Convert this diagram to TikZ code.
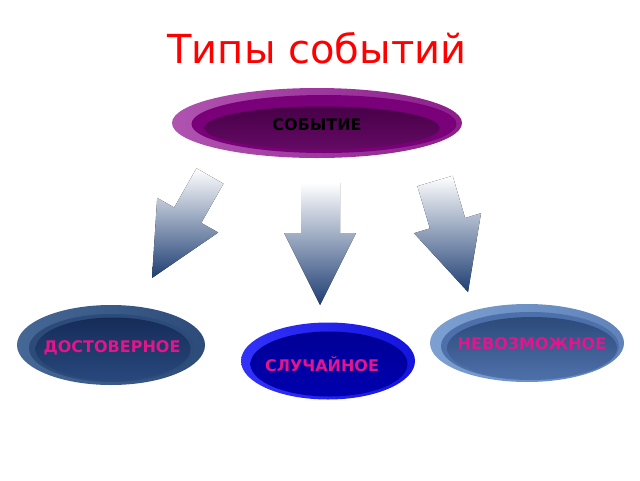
\documentclass[tikz,border=0pt]{standalone}
\usepackage{fontspec}
\setmainfont{DejaVu Sans}
\usetikzlibrary{shapes,positioning}

\definecolor{purpleA}{RGB}{176,84,176}
\definecolor{purpleB}{RGB}{140,30,140}
\definecolor{purpleC}{RGB}{122,0,122}
\definecolor{purpleD}{RGB}{72,0,72}
\definecolor{purpleE}{RGB}{100,10,100}
\definecolor{arrowblue}{RGB}{30,62,115}
\definecolor{steelA}{RGB}{70,104,150}
\definecolor{steelB}{RGB}{45,75,120}
\definecolor{navyA}{RGB}{22,44,88}
\definecolor{navyB}{RGB}{40,72,125}
\definecolor{brightA}{RGB}{50,50,250}
\definecolor{brightB}{RGB}{20,20,220}
\definecolor{deepA}{RGB}{0,0,150}
\definecolor{deepB}{RGB}{0,0,175}
\definecolor{skyA}{RGB}{125,160,210}
\definecolor{skyB}{RGB}{95,130,185}
\definecolor{skyC}{RGB}{44,74,122}
\definecolor{skyD}{RGB}{78,112,170}
\definecolor{pinktext}{RGB}{228,20,140}

\begin{document}
\begin{tikzpicture}[x=1pt, y=-1pt]
            \tikzstyle{disc} = [ellipse, inner sep=0pt]
            \tikzstyle{evtext} = [font=\bfseries\fontsize{16}{19}\selectfont]
            \tikzstyle{blockarrow} = [top color=white, bottom color=arrowblue, draw=none]
            \useasboundingbox (0, 0) rectangle (640, 480);

            \node[anchor=base, text=red, font=\fontsize{40}{48}\selectfont] (title) at (317, 63) {Типы событий};

            % top ellipse
            \node[disc, minimum width=290, minimum height=70, left color=purpleA, right color=purpleB] (sobout) at (317, 123) {};
            \node[disc, minimum width=265, minimum height=58, fill=purpleC] (sobmid) at (324, 124) {};
            \node[disc, minimum width=235, minimum height=43, top color=purpleD, bottom color=purpleE] (sobin) at (322, 128) {};
            \node[evtext, text=black] (sob) at (317, 125) {СОБЫТИЕ};

            % arrows
            \fill[blockarrow] (196.5, 168.3) -- (223.5, 183.7) -- (201.2, 222.9) -- (218.2, 232.5)
                -- (152, 278) -- (157.2, 197.9) -- (174.2, 207.5) -- cycle;
            \fill[blockarrow] (301, 183) -- (340, 183) -- (340, 233) -- (356, 233)
                -- (320, 305) -- (284, 233) -- (301, 233) -- cycle;
            \fill[blockarrow] (417.4, 186.2) -- (452.6, 175.8) -- (465.1, 218.0) -- (481.0, 213.2)
                -- (468, 292) -- (414.0, 233.2) -- (429.9, 228.4) -- cycle;

            % bottom ellipses
            \node[disc, minimum width=188, minimum height=80, left color=steelA, right color=steelB] (dostout) at (111, 345) {};
            \node[disc, minimum width=166, minimum height=68, fill=steelB] (dostmid) at (112, 348) {};
            \node[disc, minimum width=155, minimum height=63, top color=navyA, bottom color=navyB] (dostin) at (113, 349) {};
            \node[evtext, text=pinktext] (dost) at (112, 348) {ДОСТОВЕРНОЕ};

            \node[disc, minimum width=174, minimum height=77, left color=brightA, right color=brightB] (sluchout) at (328, 361) {};
            \node[disc, minimum width=157, minimum height=65, top color=deepA, bottom color=deepB] (sluchin) at (329, 364) {};
            \node[evtext, text=pinktext] (sluch) at (322, 364) {СЛУЧАЙНОЕ};

            \node[disc, minimum width=194, minimum height=78, left color=skyA, right color=skyB] (nevozout) at (527, 343) {};
            \node[disc, minimum width=178, minimum height=68, fill=skyD] (nevozmid) at (530, 346) {};
            \node[disc, minimum width=170, minimum height=62, top color=skyC, bottom color=skyD] (nevozin) at (532, 348) {};
            \node[evtext, text=pinktext] (nevoz) at (532, 344) {НЕВОЗМОЖНОЕ};
\end{tikzpicture}
\end{document}
